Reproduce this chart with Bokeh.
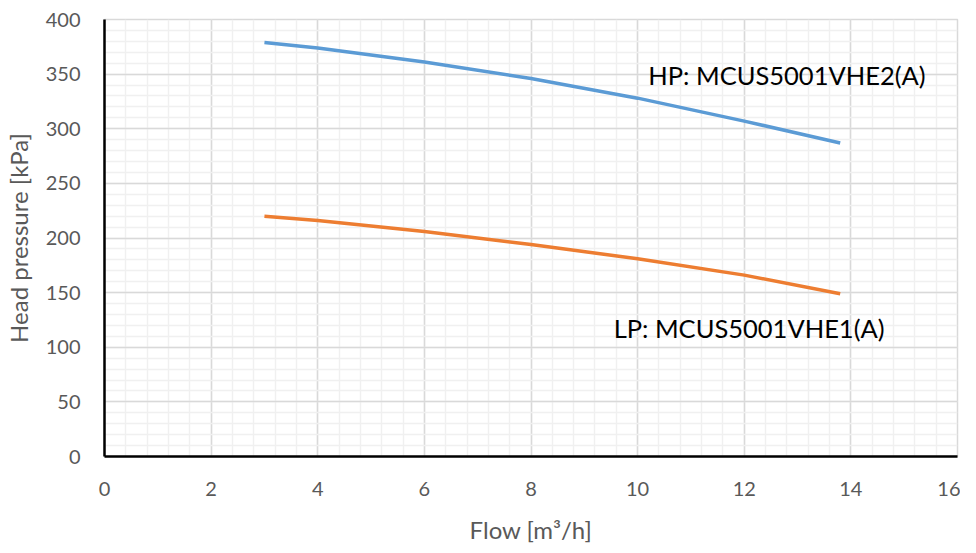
from bokeh.plotting import figure
from bokeh.models import SingleIntervalTicker, Range1d, Label
from bokeh.embed import file_html
from bokeh.resources import INLINE

flow = [3, 4, 6, 8, 10, 12, 13.8]
hp_head = [379, 374, 361, 346, 328, 307, 287]
lp_head = [220, 216, 206, 194, 181, 166, 149]
hp_name = "HP: MCUS5001VHE2(A)"
lp_name = "LP: MCUS5001VHE1(A)"

FONT = "Lato"
GRAY = "#595959"

p = figure(width=960, height=553, output_backend="svg", toolbar_location=None,
           x_range=Range1d(0, 16), y_range=Range1d(0, 400),
           min_border_left=104, min_border_right=3, min_border_top=19, min_border_bottom=97)

p.outline_line_color = "#d9d9d9"
p.outline_line_width = 1.5

for ax, interval in ((p.xaxis[0], 2), (p.yaxis[0], 50)):
    ax.ticker = SingleIntervalTicker(interval=interval, num_minor_ticks=5)
    ax.axis_line_color = "black"
    ax.axis_line_width = 2.5
    ax.major_tick_line_color = None
    ax.minor_tick_line_color = None
    ax.major_label_text_font = FONT
    ax.major_label_text_font_size = "20px"
    ax.major_label_text_color = GRAY
    ax.axis_label_text_font = FONT
    ax.axis_label_text_font_size = "24px"
    ax.axis_label_text_color = GRAY
    ax.axis_label_text_font_style = "normal"

p.xaxis.major_label_standoff = 19
p.yaxis.major_label_standoff = 18
p.xaxis.axis_label = "Flow [m³/h]"
p.yaxis.axis_label = "Head pressure [kPa]"
p.xaxis.axis_label_standoff = 16
p.yaxis.axis_label_standoff = 10

for g in (p.xgrid[0], p.ygrid[0]):
    g.grid_line_color = "#d9d9d9"
    g.grid_line_width = 1.5
    g.minor_grid_line_color = "#f0f0f0"
    g.minor_grid_line_width = 1.5

p.line(flow, hp_head, line_color="#5b9bd5", line_width=3.5, line_join="round")
p.line(flow, lp_head, line_color="#ed7d31", line_width=3.5, line_join="round")

p.add_layout(Label(x=10.2, y=349, text=hp_name, text_font=FONT, text_font_size="25.5px",
                   text_color="black", text_baseline="middle"))
p.add_layout(Label(x=9.55, y=118, text=lp_name, text_font=FONT, text_font_size="25.5px",
                   text_color="black", text_baseline="middle"))

open("out.html", "w").write(file_html(p, INLINE))
